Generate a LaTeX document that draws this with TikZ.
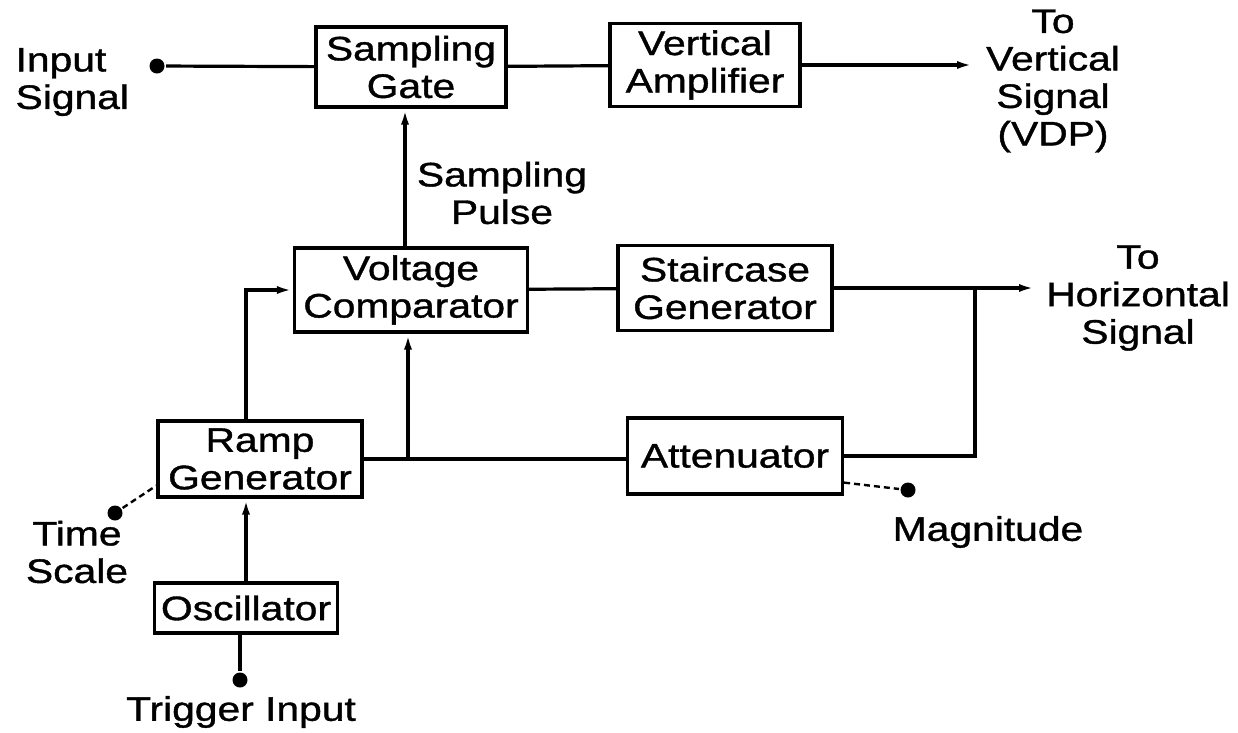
\documentclass[tikz,border=0pt]{standalone}
\usepackage{fontspec}
\setmainfont{Liberation Sans}[FakeStretch=1.2,FakeBold=1.1]
\usepackage{tikz}
\usetikzlibrary{shapes,arrows,arrows.meta,positioning,calc}
\newcommand{\bigfont}{\fontsize{34}{37.5}\selectfont}
\tikzstyle{block} = [draw, rectangle, line width=3.2pt, inner sep=0pt, align=center, font=\bigfont]
\tikzstyle{annot} = [inner sep=0pt, align=center, font=\bigfont]
\tikzstyle{term} = [circle, fill=black, inner sep=0pt, minimum size=15pt]

\begin{document}
\begin{tikzpicture}[x=1pt, y=-1pt, >={Latex[length=16pt,width=8pt]}, line width=3.2pt]
  \useasboundingbox (0,0) rectangle (1238,732);
  % Nodes
  \node [block, minimum width=190pt, minimum height=80pt] (sgate) at (411,67) {Sampling\\Gate};
  \node [block, minimum width=190pt, minimum height=83pt] (vamp) at (705,65) {Vertical\\Amplifier};
  \node [block, minimum width=233pt, minimum height=84pt] (vcomp) at (411,290) {Voltage\\Comparator};
  \node [block, minimum width=214pt, minimum height=85pt] (stair) at (725,288) {Staircase\\Generator};
  \node [block, minimum width=204pt, minimum height=76pt] (ramp) at (260,459) {Ramp\\Generator};
  \node [block, minimum width=215pt, minimum height=76pt] (atten) at (735,456) {Attenuator};
  \node [block, minimum width=183pt, minimum height=50pt] (osc) at (246,608) {Oscillator};

  % Terminals
  \node [term] (indot) at (157,66) {};
  \node [term] (tsdot) at (115,513) {};
  \node [term] (trdot) at (240,680) {};
  \node [term] (mgdot) at (908,490) {};
  \coordinate (vout) at (973,65);
  \coordinate (hout) at (1035,288);
  \coordinate (hjoin) at (975,288);
  \coordinate (rjoin) at ([xshift=-3pt]vcomp.south |- ramp.east);

  % Path
  \draw (indot) -- (sgate);
  \draw (sgate) -- (vamp);
  \draw [->] (vamp) -- (vout);
  \draw [->] ([xshift=-6pt]vcomp.north) -- ([xshift=-6pt]sgate.south);
  \draw (vcomp) -- (stair);
  \draw [->] (stair) -- (hout);
  \draw (atten.east) -| (hjoin);
  \draw [->] ([xshift=-14pt]ramp.north) |- (vcomp.west);
  \draw (ramp.east) -- (ramp.east -| atten.west);
  \draw [->] (rjoin) -- (rjoin |- vcomp.south);
  \draw [->] (osc.north) -- (osc.north |- ramp.south);
  \draw (trdot) -- (trdot |- osc.south);
  \draw [line width=2.4pt, dash pattern=on 6pt off 4pt] (tsdot) -- ([yshift=13pt]ramp.south west);
  \draw [line width=2.4pt, dash pattern=on 6pt off 4pt] ([yshift=13pt]atten.south east) -- (mgdot);

  % Annotations
  \node [annot, anchor=west, align=left] (insig) at (14,82) {Input\\Signal};
  \node [annot] (spulse) at (502,193) {Sampling\\Pulse};
  \node [annot] (vsig) at (1053,81) {To\\Vertical\\Signal\\(VDP)};
  \node [annot] (hsig) at (1138,298) {To\\Horizontal\\Signal};
  \node [annot] (tscale) at (77,552) {Time\\Scale};
  \node [annot] (trig) at (241,712) {Trigger Input};
  \node [annot] (mag) at (988,532) {Magnitude};
\end{tikzpicture}
\end{document}
